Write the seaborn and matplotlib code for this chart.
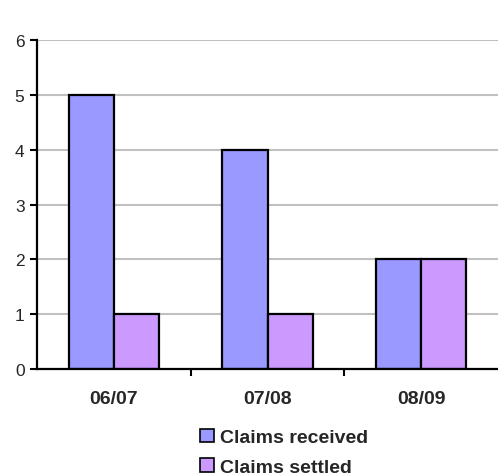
import matplotlib
matplotlib.use("Agg")
import matplotlib.pyplot as plt
import seaborn as sns
import pandas as pd
from matplotlib.patches import Patch

years = ["06/07", "07/08", "08/09"]
received = [5, 4, 2]
settled = [1, 1, 2]
series = ["Claims received", "Claims settled"]
colors = ["#9999FF", "#CC99FF"]

df = pd.DataFrame({
    "year": years * 2,
    "count": received + settled,
    "series": [series[0]] * 3 + [series[1]] * 3,
})

sns.set_style("white")
plt.rcParams["font.family"] = ["Liberation Sans", "DejaVu Sans"]

fig = plt.figure(figsize=(4.98, 4.77), dpi=100)
ax = fig.add_axes([0.0743, 0.2243, 0.9257, 0.6897])

sns.barplot(data=df, x="year", y="count", hue="series", palette=colors,
            saturation=1, width=0.59, edgecolor="black", linewidth=1.6,
            ax=ax, legend=False)

ax.set_xlim(-0.5, 2.5)
ax.set_ylim(0, 6)
ax.set_yticks(range(0, 7))
ax.yaxis.grid(True, color="#C0C0C0", linewidth=1.5)
ax.set_axisbelow(True)
for s in ["top", "right"]:
    ax.spines[s].set_visible(False)
for s in ["left", "bottom"]:
    ax.spines[s].set_color("black")
    ax.spines[s].set_linewidth(1.6)

ax.tick_params(axis="y", direction="out", length=5, width=1.5, color="black",
               left=True, labelsize=12.5, pad=4)
ax.tick_params(axis="x", which="major", length=0, labelsize=14, pad=15)
ax.set_xticks([0.5, 1.5], minor=True)
ax.tick_params(axis="x", which="minor", direction="out", length=5, width=1.5,
               color="black", bottom=True)
for lbl in ax.get_xticklabels():
    lbl.set_fontweight("bold")
ax.set_xlabel("")
ax.set_ylabel("")

handles = [Patch(facecolor=c, edgecolor="black", linewidth=1.2) for c in colors]
fig.legend(handles, series, loc="center", bbox_to_anchor=(0.57, 0.05),
           frameon=False, handlelength=0.7, handleheight=0.7, handletextpad=0.3,
           labelspacing=0.6, borderpad=0.2, prop={"weight": "bold", "size": 14})

fig.savefig("out.png", dpi=100)
